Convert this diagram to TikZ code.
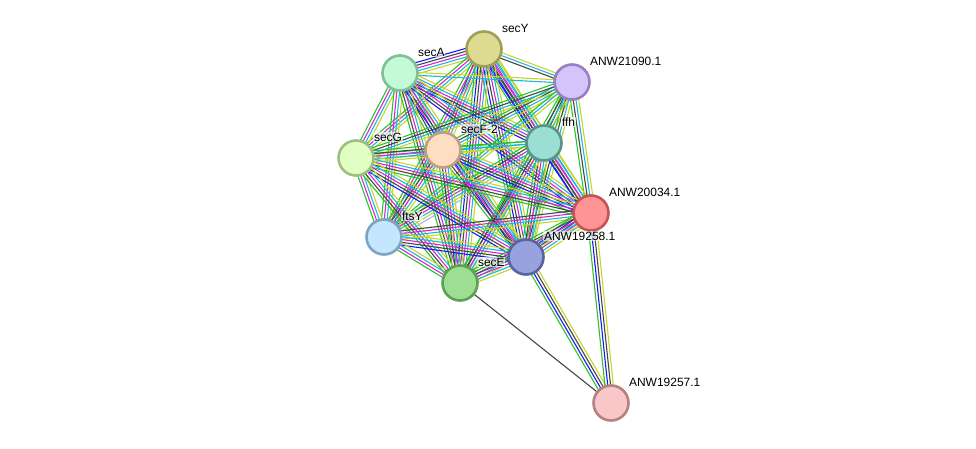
\documentclass[tikz,border=0pt]{standalone}
\usepackage{fontspec}
\setmainfont{Liberation Sans}
\usetikzlibrary{calc, backgrounds}

% evidence colours
\definecolor{cneigh}{RGB}{40,195,40}
\definecolor{ccooc}{RGB}{25,25,240}
\definecolor{ccoexp}{RGB}{70,70,70}
\definecolor{cexpt}{RGB}{210,40,210}
\definecolor{cdbase}{RGB}{35,180,220}
\definecolor{ctmine}{RGB}{195,215,40}
\definecolor{chomol}{RGB}{170,170,255}

% protein colours
\definecolor{fsecY}{RGB}{221,219,146}\definecolor{dsecY}{RGB}{160,158,90}
\definecolor{fsecA}{RGB}{195,250,215}\definecolor{dsecA}{RGB}{128,192,150}
\definecolor{fsdP}{RGB}{211,196,251}\definecolor{dsdP}{RGB}{150,128,195}
\definecolor{fffh}{RGB}{154,222,212}\definecolor{dffh}{RGB}{88,150,140}
\definecolor{fsecF}{RGB}{254,222,193}\definecolor{dsecF}{RGB}{190,160,130}
\definecolor{fsecG}{RGB}{226,255,195}\definecolor{dsecG}{RGB}{160,190,130}
\definecolor{fsdR}{RGB}{255,148,148}\definecolor{dsdR}{RGB}{195,85,85}
\definecolor{fftsY}{RGB}{196,231,253}\definecolor{dftsY}{RGB}{125,165,195}
\definecolor{fsdB}{RGB}{152,162,222}\definecolor{dsdB}{RGB}{88,100,160}
\definecolor{fsecE}{RGB}{157,222,147}\definecolor{dsecE}{RGB}{95,160,85}
\definecolor{fsdQ}{RGB}{248,199,199}\definecolor{dsdQ}{RGB}{180,130,130}

% one bundle of parallel lines between two proteins
\newcommand{\link}[3]{%
  \gdef\nlines{0}%
  \foreach \col in {#3} {\xdef\nlines{\the\numexpr\nlines+1\relax}}%
  \foreach \col [count=\i] in {#3} {%
    \pgfmathsetmacro{\off}{(\i-(\nlines+1)/2)*2.8}%
    \draw[\col] ($(#1)!\off pt!90:(#2)$) -- ($(#2)!\off pt!-90:(#1)$);%
  }%
}

\begin{document}
\begin{tikzpicture}[x=1pt, y=-1pt,
    % Define the styles for proteins, labels and evidence lines
    prot/.style={circle, minimum size=35pt, inner sep=0pt, line width=2.6pt},
    lbl/.style={anchor=west, font=\fontsize{12}{14}\selectfont, inner sep=0.8pt,
        fill=white, fill opacity=0.6, text opacity=1},
    neigh/.style={draw=cneigh, line width=1.1pt},
    cooc/.style={draw=ccooc, line width=1.1pt},
    coexp/.style={draw=ccoexp, line width=1.1pt},
    expt/.style={draw=cexpt, line width=1.1pt},
    dbase/.style={draw=cdbase, line width=1.1pt},
    tmine/.style={draw=ctmine, line width=1.1pt},
    homol/.style={draw=chomol, line width=1.1pt}
]
\useasboundingbox (0,0) rectangle (976,449);

% Define the proteins
\node[prot, fill=fsecY, draw=dsecY] (secY) at (484,49) {};
\node[prot, fill=fsecA, draw=dsecA] (secA) at (400,73) {};
\node[prot, fill=fsdP, draw=dsdP] (n21090) at (572,82) {};
\node[prot, fill=fffh, draw=dffh] (ffh) at (544,143) {};
\node[prot, fill=fsecF, draw=dsecF] (secF) at (443,150) {};
\node[prot, fill=fsecG, draw=dsecG] (secG) at (356,158) {};
\node[prot, fill=fsdR, draw=dsdR] (n20034) at (591,213) {};
\node[prot, fill=fftsY, draw=dftsY] (ftsY) at (384,237) {};
\node[prot, fill=fsdB, draw=dsdB] (n19258) at (526,257) {};
\node[prot, fill=fsecE, draw=dsecE] (secE) at (460,283) {};
\node[prot, fill=fsdQ, draw=dsdQ] (n19257) at (611,403) {};

% Add the protein labels
\node[lbl] (secYlbl) at ($(secY)+(17,-21)$) {secY};
\node[lbl] (secAlbl) at ($(secA)+(17,-21)$) {secA};
\node[lbl] (n21090lbl) at ($(n21090)+(17,-21)$) {ANW21090.1};
\node[lbl] (ffhlbl) at ($(ffh)+(17,-21)$) {ffh};
\node[lbl] (secFlbl) at ($(secF)+(17,-21)$) {secF-2};
\node[lbl] (secGlbl) at ($(secG)+(17,-21)$) {secG};
\node[lbl] (n20034lbl) at ($(n20034)+(17,-21)$) {ANW20034.1};
\node[lbl] (ftsYlbl) at ($(ftsY)+(17,-21)$) {ftsY};
\node[lbl] (n19258lbl) at ($(n19258)+(17,-21)$) {ANW19258.1};
\node[lbl] (secElbl) at ($(secE)+(17,-21)$) {secE};
\node[lbl] (n19257lbl) at ($(n19257)+(17,-21)$) {ANW19257.1};

% Draw the evidence lines behind the proteins
\begin{pgfonlayer}{background}
\link{secY}{secA}{cooc,coexp,expt,dbase,tmine}
\link{secY}{n21090}{coexp,dbase,tmine}
\link{secY}{ffh}{neigh,cooc,coexp,expt,dbase,tmine}
\link{secY}{secF}{coexp,expt,dbase,tmine}
\link{secY}{secG}{neigh,expt,dbase,tmine}
\link{secY}{n20034}{cooc,coexp,expt,dbase,tmine}
\link{secY}{ftsY}{neigh,expt,dbase,tmine}
\link{secY}{n19258}{neigh,cooc,coexp,expt,dbase,tmine}
\link{secY}{secE}{neigh,cooc,coexp,expt,dbase,tmine}
\link{secA}{n21090}{dbase,tmine}
\link{secA}{ffh}{cooc,coexp,expt,dbase,tmine}
\link{secA}{secF}{neigh,coexp,expt,dbase,tmine}
\link{secA}{secG}{neigh,expt,dbase,tmine}
\link{secA}{n20034}{cooc,coexp,expt,dbase,tmine}
\link{secA}{ftsY}{neigh,expt,dbase,tmine}
\link{secA}{n19258}{cooc,coexp,expt,dbase,tmine}
\link{secA}{secE}{neigh,coexp,expt,dbase,tmine}
\link{n21090}{ffh}{neigh,coexp,dbase,tmine}
\link{n21090}{secF}{neigh,coexp,dbase,tmine}
\link{n21090}{secG}{neigh,coexp,dbase,tmine}
\link{n21090}{n20034}{neigh,coexp,dbase,tmine}
\link{n21090}{ftsY}{neigh,dbase,tmine}
\link{n21090}{n19258}{neigh,coexp,dbase,tmine}
\link{n21090}{secE}{neigh,coexp,dbase,tmine}
\link{ffh}{secF}{neigh,dbase,tmine}
\link{ffh}{secG}{neigh,dbase,tmine}
\link{ffh}{n20034}{cooc,coexp,expt,dbase,tmine}
\link{ffh}{ftsY}{neigh,coexp,expt,dbase,tmine,homol}
\link{ffh}{n19258}{neigh,coexp,expt,dbase,tmine}
\link{ffh}{secE}{neigh,coexp,expt,dbase,tmine}
\link{secF}{secG}{neigh,coexp,expt,dbase,tmine}
\link{secF}{n20034}{neigh,cooc,coexp,expt,dbase,tmine}
\link{secF}{ftsY}{neigh,coexp,expt,dbase,tmine}
\link{secF}{n19258}{neigh,coexp,expt,dbase,tmine}
\link{secF}{secE}{neigh,coexp,expt,dbase,tmine}
\link{secG}{n20034}{neigh,coexp,expt,dbase,tmine}
\link{secG}{ftsY}{neigh,expt,dbase,tmine}
\link{secG}{n19258}{cooc,coexp,expt,dbase,tmine}
\link{secG}{secE}{neigh,coexp,expt,dbase,tmine}
\link{n20034}{ftsY}{coexp,expt,dbase,tmine}
\link{n20034}{n19258}{neigh,cooc,coexp,expt,dbase,tmine}
\link{n20034}{secE}{neigh,coexp,expt,dbase,tmine}
\link{ftsY}{n19258}{cooc,coexp,expt,dbase,tmine}
\link{ftsY}{secE}{neigh,expt,dbase,tmine}
\link{n19258}{secE}{neigh,coexp,expt,dbase,tmine}
\link{n19257}{secE}{coexp}
\link{n19258}{n19257}{neigh,cooc,coexp,tmine}
\link{n20034}{n19257}{neigh,cooc,coexp,tmine}
\end{pgfonlayer}

\end{tikzpicture}
\end{document}
